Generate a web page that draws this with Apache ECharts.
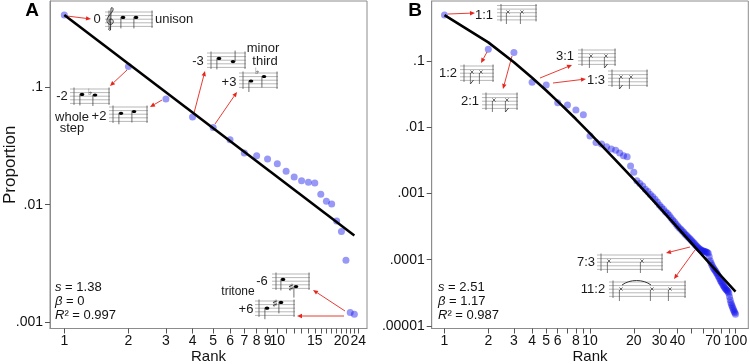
<!DOCTYPE html>
<html>
<head>
<meta charset="utf-8">
<script src="https://cdn.jsdelivr.net/npm/echarts@6/dist/echarts.min.js"></script>
<style>
  html, body { margin: 0; padding: 0; background: #fff; }
  #chart { width: 750px; height: 364px; }
</style>
</head>
<body>
<div id="chart"></div>
<script>
// A: melodic intervals, proportion by rank (rank = position in list)
const propA = [0.411, 0.150, 0.0791, 0.0556, 0.0454, 0.0357, 0.0275, 0.0261, 0.0244, 0.0223,
  0.0192, 0.0172, 0.0160, 0.0155, 0.0153, 0.01225, 0.01067, 0.01014, 0.00727, 0.00590,
  0.00337, 0.00121, 0.00117];
const fitRanksA = [1, 23];
const fitA = [0.411, 0.00546];
const xTicksA = [1, 2, 3, 4, 5, 6, 7, 8, 9, 10, 11, 12, 13, 14, 15, 16, 17, 18, 19, 20, 21, 22, 23, 24];
const xLabelsA = [1, 2, 3, 4, 5, 6, 7, 8, 9, 10, 15, 20, 24];
const yLabelsA = [0.1, 0.01, 0.001];
const statsA = ['1.38', '0', '0.997'];

// B: rhythm ratios
const propB = [0.494, 0.150, 0.135, 0.0477, 0.0435, 0.0235, 0.0217, 0.0182, 0.0155, 0.0074,
  0.0059, 0.0056, 0.0051, 0.0047, 0.0045, 0.0041, 0.0037, 0.0036, 0.0026, 0.0021,
  0.00156, 0.00142, 0.00130, 0.00116, 0.00107, 0.00097, 0.000896, 0.000816, 0.000744, 0.000671,
  0.000618, 0.000577, 0.000532, 0.000502, 0.000468, 0.000432, 0.000398, 0.000376, 0.000346, 0.000323,
  0.000305, 0.000288, 0.000275, 0.000259, 0.000245, 0.000234, 0.000223, 0.000213, 0.000203, 0.000194,
  0.000185, 0.000177, 0.000169, 0.000161, 0.000154, 0.000149, 0.000144, 0.000140, 0.000137, 0.000136,
  0.000134, 0.000132, 0.000131, 0.000129, 0.000125, 0.000111, 0.0000969, 0.0000883, 0.0000823, 0.0000768,
  0.0000734, 0.0000700, 0.0000669, 0.0000638, 0.0000609, 0.0000575, 0.0000543, 0.0000512, 0.0000483, 0.0000461,
  0.0000441, 0.0000421, 0.0000402, 0.0000383, 0.0000370, 0.0000358, 0.0000349, 0.0000341, 0.0000330, 0.0000311,
  0.0000277, 0.0000247, 0.0000225, 0.0000210, 0.0000196, 0.0000185, 0.0000174, 0.0000166, 0.0000159, 0.0000150];
const fitRanksB = [1, 2, 3, 4, 5, 6, 8, 10, 15, 20, 30, 40, 50, 70, 100];
const fitB = [0.494, 0.191, 0.0959, 0.056, 0.0359, 0.0246, 0.0133, 0.0081, 0.00319, 0.00163,
  0.000615, 0.000306, 0.000177, 0.0000775, 0.000033];
const xTicksB = [1, 2, 3, 4, 5, 6, 7, 8, 9, 10, 20, 30, 40, 50, 60, 70, 80, 90, 100];
const xLabelsB = [1, 2, 3, 4, 5, 6, 8, 10, 20, 30, 40, 70, 100];
const yLabelsB = [0.1, 0.01, 0.001, 0.0001, 0.00001];
const statsB = ['2.51', '1.17', '0.987'];

const lg = Math.log10;
const FONT = '"Liberation Sans", Arial, sans-serif';
const DOT = 'rgba(20,20,237,0.55)';
const RED = '#e5261d';
const FRAME = '#8c8c8c';

function xAxis(grid, min, max, ticks, labels, name) {
  return {
    type: 'value', gridIndex: grid, min: min, max: max,
    name: name, nameLocation: 'middle', nameGap: 21, nameMoveOverlap: false,
    nameTextStyle: { color: '#111', fontSize: 15, fontFamily: FONT },
    axisLine: { show: true, onZero: false, lineStyle: { color: FRAME, width: 1 } },
    splitLine: { show: false },
    axisTick: { show: true, inside: false, length: 5, customValues: ticks.map(lg), lineStyle: { color: '#555', width: 1 } },
    axisLabel: {
      customValues: labels.map(lg), margin: 6, color: '#111', fontSize: 14, fontFamily: FONT,
      formatter: v => String(Math.round(Math.pow(10, v)))
    }
  };
}
function yAxis(grid, min, max, labels, name) {
  return {
    type: 'value', gridIndex: grid, min: min, max: max,
    name: name, nameLocation: 'middle', nameGap: 31, nameMoveOverlap: false,
    nameTextStyle: { color: '#111', fontSize: 17, fontFamily: FONT },
    axisLine: { show: true, onZero: false, lineStyle: { color: FRAME, width: 1 } },
    splitLine: { show: false },
    axisTick: { show: true, inside: false, length: 5, customValues: labels.map(lg), lineStyle: { color: '#555', width: 1 } },
    axisLabel: {
      customValues: labels.map(lg), margin: 7, color: '#111', fontSize: 14, fontFamily: FONT,
      formatter: v => '.' + '0'.repeat(Math.round(-v) - 1) + '1'
    }
  };
}
function scatter(idx, prop) {
  return {
    type: 'scatter', xAxisIndex: idx, yAxisIndex: idx, symbolSize: 7, z: 2,
    itemStyle: { color: DOT },
    data: prop.map((p, i) => [lg(i + 1), lg(p)])
  };
}
function fit(idx, ranks, vals) {
  return {
    type: 'line', xAxisIndex: idx, yAxisIndex: idx, symbol: 'none', z: 3,
    lineStyle: { color: '#000', width: 2.6 },
    data: ranks.map((r, i) => [lg(r), lg(vals[i])])
  };
}

// ---- little drawing helpers for the annotations ----
function L(x1, y1, x2, y2, c, w) {
  return { type: 'line', silent: true, shape: { x1, y1, x2, y2 }, style: { stroke: c, lineWidth: w } };
}
function C(x1, y1, c1x, c1y, c2x, c2y, x2, y2, w) {
  return { type: 'bezierCurve', silent: true,
    shape: { x1, y1, x2, y2, cpx1: c1x, cpy1: c1y, cpx2: c2x, cpy2: c2y },
    style: { stroke: '#222', fill: null, lineWidth: w || 0.9 } };
}
function T(text, x, y, size, align) {
  return {
    type: 'text', silent: true, x: x, y: y,
    style: { text: text, fill: '#1a1a1a', font: (size || 13) + 'px ' + FONT,
      align: align || 'center', verticalAlign: 'middle',
      textAlign: align || 'center', textVerticalAlign: 'middle' }
  };
}
function arrow(x1, y1, x2, y2) {
  const a = Math.atan2(y2 - y1, x2 - x1), len = 5, w = 2.2;
  const bx = x2 - len * Math.cos(a), by = y2 - len * Math.sin(a);
  const nx = -Math.sin(a) * w, ny = Math.cos(a) * w;
  return [
    L(x1, y1, bx, by, RED, 0.9),
    { type: 'polygon', silent: true, shape: { points: [[x2, y2], [bx + nx, by + ny], [bx - nx, by - ny]] }, style: { fill: RED } }
  ];
}
function staff(x1, x2, top) {
  const els = [];
  for (let i = 0; i < 5; i++) els.push(L(x1, top + i * 3.6, x2, top + i * 3.6, '#9a9a9a', 0.7));
  els.push(L(x1 + 4, top - 1.5, x1 + 4, top + 15.9, '#555', 0.8));
  els.push(L(x2 - 1, top - 1.5, x2 - 1, top + 15.9, '#555', 0.8));
  return els;
}
function note(x, y, up) {
  return [
    { type: 'ellipse', silent: true, shape: { cx: x, cy: y, rx: 2.3, ry: 1.6 }, style: { fill: '#000' } },
    up ? L(x + 2.1, y, x + 2.1, y - 11, '#333', 0.7) : L(x - 2.1, y, x - 2.1, y + 11, '#333', 0.7)
  ];
}
function xnote(x, y, flag) {
  const els = [
    L(x - 1.6, y - 1.6, x + 1.6, y + 1.6, '#333', 0.7),
    L(x - 1.6, y + 1.6, x + 1.6, y - 1.6, '#333', 0.7),
    L(x - 1.6, y + 1, x - 1.6, y + 12, '#444', 0.7)
  ];
  if (flag) els.push(L(x - 1.6, y + 12, x + 1.5, y + 8, '#333', 0.9));
  return els;
}
function clef(x, y) {
  return [
    L(x + 4.5, y + 23, x + 5, y + 2, '#222', 0.9),
    C(x + 5, y + 2, x + 5, y - 0.5, x + 7.6, y + 0.5, x + 7, y + 3),
    C(x + 7, y + 3, x + 6.5, y + 6, x + 1, y + 9, x + 1, y + 13.5),
    C(x + 1, y + 13.5, x + 1, y + 17, x + 4, y + 18, x + 6, y + 17),
    C(x + 6, y + 17, x + 8, y + 16, x + 7.5, y + 12, x + 5, y + 12),
    C(x + 5, y + 12, x + 3, y + 12, x + 2.5, y + 14.5, x + 4, y + 15.5),
    C(x + 4.5, y + 23, x + 2.5, y + 24, x + 1.8, y + 21, x + 4, y + 21)
  ];
}

const ann = [].concat(
  // panel letters
  [{ type: 'text', x: 32, y: 11, style: { text: 'A', font: 'bold 19px ' + FONT, fill: '#000', align: 'center', verticalAlign: 'middle', textAlign: 'center', textVerticalAlign: 'middle' } },
   { type: 'text', x: 415, y: 11, style: { text: 'B', font: 'bold 19px ' + FONT, fill: '#000', align: 'center', verticalAlign: 'middle', textAlign: 'center', textVerticalAlign: 'middle' } }],
  // A: unison
  arrow(67, 16, 91, 19), T('0', 97, 19.5), staff(105, 153, 12), clef(106, 7),
  note(123, 17.4, false), note(136, 17.4, false), [T('unison', 155, 19.5, 13, 'left')],
  // A: whole step
  arrow(127, 70, 110, 86), T('-2', 62, 96), staff(70, 110, 89), note(82, 94.4, false),
  [T('\u266d', 90, 93, 9)], note(95, 95, false),
  T('whole', 72, 117), T('step', 72, 128.5),
  arrow(162, 100, 150, 107), T('+2', 99, 116.5), staff(109, 148, 107), note(121, 113.3, false), note(134, 111.5, false),
  // A: minor third
  arrow(194, 113, 205, 71), T('-3', 198, 61), staff(207, 246, 53), note(219, 58.4, false), note(233, 61.6, true),
  T('minor', 263, 48.5), T('third', 265, 61),
  arrow(215, 124, 237, 92), T('+3', 229, 82.5), staff(239, 278, 73), note(251, 81, false), [T('\u266d', 257, 72, 9)], note(264, 76.5, false),
  // A: tritone
  arrow(345, 311, 313, 290), T('-6', 262, 281.5), staff(272, 310, 274), note(283, 279.4, false),
  [T('\u266f', 291, 288, 9)], note(296, 286.6, false), T('tritone', 238, 291.5, 12),
  arrow(344, 316, 297, 316), T('+6', 246, 309.5), staff(255, 295, 301), note(267, 308.2, false),
  [T('\u266f', 275, 304, 9)], note(281, 302.4, false),
  // B: rhythm ratios
  arrow(448, 14, 475, 13), T('1:1', 484, 15), staff(497, 537, 5.5), xnote(508, 12), xnote(522, 12),
  arrow(487, 52, 481, 63), T('1:2', 448, 73.5), staff(460, 494, 66), xnote(472, 72, true), xnote(481, 72),
  arrow(512, 56, 503, 89), T('2:1', 470, 101.5), staff(482, 518, 94), xnote(494, 100), xnote(507, 100, true),
  arrow(540, 78, 572, 65), T('3:1', 565, 56.5), staff(578, 616, 50), xnote(591, 56), xnote(606, 56, true),
  arrow(553, 83, 586, 79), T('1:3', 596, 80.5), staff(608, 648, 71), xnote(621, 77, true), xnote(631, 77),
  arrow(690, 247, 666, 253), T('7:3', 586, 262.5), staff(597, 663, 255), xnote(609, 261), xnote(642, 261),
  arrow(695, 250, 674, 279), T('11:2', 593, 289.5), staff(609, 686, 282), xnote(621, 289), xnote(652, 289), xnote(670, 289),
  [C(622, 285, 630, 279, 643, 279, 651, 285)]
);

function stats(x, v) {
  return {
    type: 'text', x: x, y: 280,
    style: {
      text: '{i|s} = ' + v[0] + '\n{i|\u03b2} = ' + v[1] + '\n{i|R}\u00b2 = ' + v[2],
      font: '13px ' + FONT, fill: '#111', lineHeight: 14,
      rich: { i: { fontStyle: 'italic', fontSize: 13, fontFamily: FONT, lineHeight: 14 } }
    }
  };
}
ann.push(stats(55, statsA), stats(438, statsB));

const chart = echarts.init(document.getElementById('chart'));
chart.setOption({
  animation: false,
  backgroundColor: '#fff',
  grid: [
    { left: 50, top: 1, right: 383, bottom: 35.5, show: true, borderColor: FRAME, borderWidth: 1,
      containLabel: false, outerBoundsMode: 'none' },
    { left: 431.7, top: 1, right: 1.7, bottom: 35.5, show: true, borderColor: FRAME, borderWidth: 1,
      containLabel: false, outerBoundsMode: 'none' }
  ],
  xAxis: [
    xAxis(0, -0.0671, 1.4211, xTicksA, xLabelsA, 'Rank'),
    xAxis(1, -0.088, 2.088, xTicksB, xLabelsB, 'Rank')
  ],
  yAxis: [
    yAxis(0, -3.054, -0.267, yLabelsA, 'Proportion'),
    yAxis(1, -5.038, -0.094, yLabelsB, '')
  ],
  series: [
    scatter(0, propA), fit(0, fitRanksA, fitA),
    scatter(1, propB), fit(1, fitRanksB, fitB)
  ],
  graphic: ann
});
</script>
</body>
</html>
